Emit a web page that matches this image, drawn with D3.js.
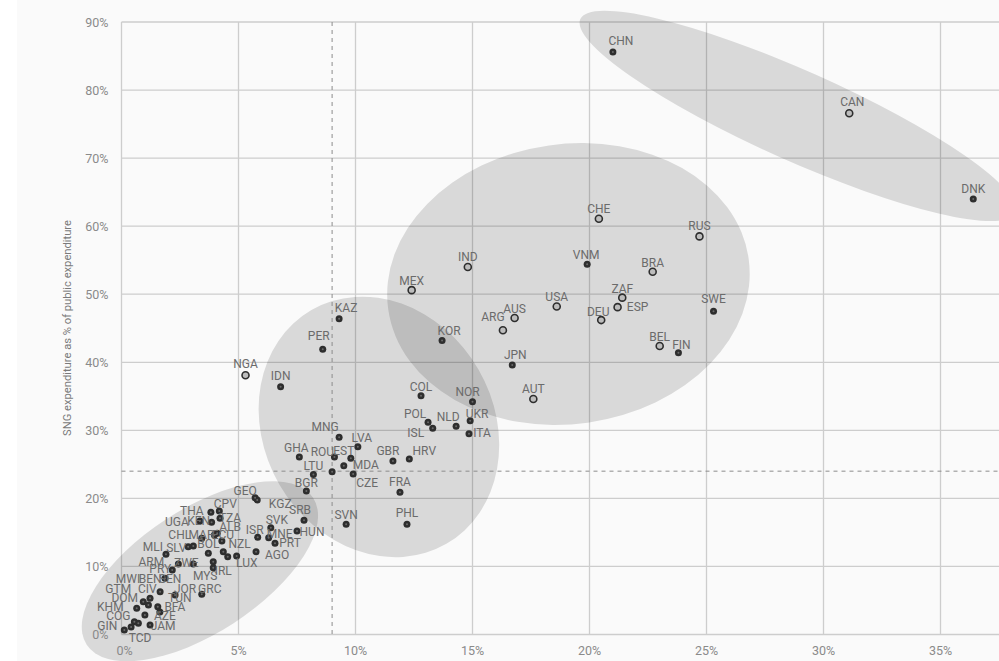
<!DOCTYPE html>
<html lang="en">
<head>
<meta charset="UTF-8">
<title>SNG expenditure vs public expenditure</title>
<script src="https://cdn.jsdelivr.net/npm/d3@7"></script>
<style>
  body { margin: 0; background: #ffffff; }
  svg { display: block; font-family: Roboto, "Noto Sans", sans-serif; }
</style>
</head>
<body>
<div id="chart"></div>
<script>
// country codes, SNG expenditure (% of GDP, x) and SNG expenditure (% of public expenditure, y)
const codes = [
  "CHN","CAN","DNK","CHE","RUS","VNM","BRA","ZAF","ESP","DEU","USA","SWE","BEL","FIN",
  "IND","MEX","AUS","ARG","KOR","JPN","AUT","COL","NOR","UKR","POL","NLD","ISL","ITA",
  "KAZ","PER","NGA","IDN","MNG","LVA","GHA","ROU","EST","MDA","","CZE","LTU","BGR",
  "GBR","HRV","FRA","SRB","SVN","PHL","HUN",
  "GEO","KGZ","CPV","THA","UGA","KEN","TZA","ALB","MAR","CHL","ECU","MLI","SLV","","BOL","",
  "LUX","NZL","AGO","ISR","MNE","SVK","PRT","ARM","ZWE","IRL","MYS","PRY","SEN","BEN",
  "JOR","GRC","MWI","GTM","CIV","TUN","DOM","BFA","AZE","KHM","COG","JAM","GIN","TCD"
];
const sngGdp = [
  21.0, 31.1, 36.4, 20.4, 24.7, 19.9, 22.7, 21.4, 21.2, 20.5, 18.6, 25.3, 23.0, 23.8,
  14.8, 12.4, 16.8, 16.3, 13.7, 16.7, 17.6, 12.8, 15.0, 14.9, 13.1, 14.3, 13.3, 14.85,
  9.3, 8.6, 5.3, 6.8, 9.3, 10.1, 7.6, 9.1, 9.8, 9.5, 9.0, 9.9, 8.2, 7.9,
  11.6, 12.3, 11.9, 7.8, 9.6, 12.2, 7.5,
  5.71, 5.80, 4.18, 3.82, 3.35, 3.85, 4.21, 4.09, 3.97, 3.43, 4.29, 1.90, 3.07, 2.85, 3.71, 4.35,
  4.54, 4.92, 5.75, 5.82, 6.29, 6.38, 6.56, 2.43, 3.07, 3.92, 3.92, 2.17, 1.86, 1.65,
  2.29, 3.43, 1.22, 0.93, 1.15, 1.55, 0.65, 1.64, 1.00, 0.55, 0.72, 1.22, 0.12, 0.41
];
const sngPublic = [
  85.6, 76.6, 64.0, 61.1, 58.5, 54.4, 53.3, 49.5, 48.1, 46.2, 48.2, 47.5, 42.4, 41.4,
  54.0, 50.6, 46.5, 44.7, 43.2, 39.6, 34.6, 35.1, 34.2, 31.4, 31.2, 30.6, 30.3, 29.5,
  46.4, 41.9, 38.1, 36.4, 29.0, 27.6, 26.1, 26.1, 25.9, 24.8, 23.9, 23.6, 23.5, 21.1,
  25.5, 25.8, 20.9, 16.8, 16.2, 16.2, 15.2,
  20.10, 19.77, 18.15, 17.96, 16.68, 16.49, 17.08, 14.87, 14.62, 14.14, 13.74, 11.79, 13.00, 12.90, 11.93, 12.17,
  11.43, 11.54, 12.17, 14.28, 14.22, 15.69, 13.40, 10.36, 10.36, 10.70, 9.82, 9.48, 8.26, 6.29,
  5.80, 5.91, 5.32, 4.82, 4.34, 4.09, 3.85, 3.30, 2.87, 1.88, 1.65, 1.40, 0.66, 1.10
];
const federal = ["ARG","AUS","AUT","BEL","BRA","CAN","CHE","DEU","ESP","IND","MEX","NGA","RUS","USA","ZAF"];

const xTicks = [0, 5, 10, 15, 20, 25, 30, 35];
const yTicks = [0, 10, 20, 30, 40, 50, 60, 70, 80, 90];
const refX = 9;   // dashed reference lines
const refY = 24;
const yTitle = "SNG expenditure as % of public expenditure";

// cluster ellipses, centres in data units
const clusterX = [3.35, 11.0, 19.1, 28.9];
const clusterY = [9.3, 30.5, 51.5, 76.2];

// layout
const W = 999, H = 661;
const plotLeft = 121.5, plotTop = 22, plotBottom = 634.5;
const ellipseShape = [ // rx, ry (px), rotation (deg)
  [135, 62, -33], [115, 135, -30], [182, 140, -8], [238, 45, 24]
];
// label nudges [dx, dy] from marker, text baseline; default [0, -6]
const nudge = {
  CHN:[8,-7], CAN:[3,-7], VNM:[-1,-5], BRA:[0,-5], ZAF:[0,-5], ESP:[20,4], DEU:[-3,-4],
  USA:[0,-5], SWE:[0,-8], BEL:[0,-5], FIN:[3,-4], MEX:[0,-5], AUS:[0,-5], ARG:[-10,-9],
  KOR:[7,-6], JPN:[3,-6], COL:[0,-5], NOR:[-5,-6], UKR:[7,-3], POL:[-13,-4], NLD:[-8,-5],
  ISL:[-17,9], ITA:[13,3], KAZ:[7,-7], PER:[-4,-9], NGA:[0,-7], IDN:[0,-7], MNG:[-14,-6],
  LVA:[4,-5], GHA:[-3,-5], ROU:[-12,-1], EST:[-7,-3], MDA:[22,3], CZE:[14,13], LTU:[0,-5],
  BGR:[0,-4], GBR:[-5,-6], HRV:[15,-4], SRB:[-4,-6], SVN:[0,-5], PHL:[0,-7], HUN:[15,5],
  GEO:[-10,-3], KGZ:[23,8], CPV:[6,-3], THA:[-19,3], UGA:[-23,5], KEN:[-13,3], TZA:[10,4],
  ALB:[13,-2], MAR:[-13,4], CHL:[-22,1], ECU:[1,-2], MLI:[-13,-3], SLV:[-17,6], BOL:[0,-5],
  LUX:[19,10], NZL:[3,-8], AGO:[21,7], ISR:[-3,-3], MNE:[11,0], SVK:[6,-4], PRT:[15,4],
  ARM:[-27,2], ZWE:[-7,3], IRL:[10,13], MYS:[-8,12], PRY:[-12,3], SEN:[5,5], BEN:[-10,-9],
  JOR:[10,-2], GRC:[8,-1], MWI:[-22,-15], GTM:[-25,-9], CIV:[-1,-12], TUN:[22,-5],
  DOM:[-12,-6], BFA:[15,-1], AZE:[20,5], KHM:[-24,-11], COG:[-20,-3], JAM:[13,5],
  GIN:[-17,0], TCD:[9,15]
};

const x = d3.scaleLinear().domain([0, 37.5]).range([plotLeft, W]);
const y = d3.scaleLinear().domain([0, 90]).range([plotBottom, plotTop]);

const svg = d3.select("#chart").append("svg")
  .attr("width", W)
  .attr("height", H);

svg.append("rect")
  .attr("x", 17).attr("y", 0)
  .attr("width", W - 17).attr("height", H)
  .attr("fill", "#fafafa");

// grid
svg.append("g").selectAll("line")
  .data(yTicks)
  .join("line")
  .attr("x1", plotLeft).attr("x2", W)
  .attr("y1", d => y(d)).attr("y2", d => y(d))
  .attr("stroke", "#cdcdcd")
  .attr("stroke-width", 1.3);

svg.append("g").selectAll("line")
  .data(xTicks)
  .join("line")
  .attr("x1", d => x(d)).attr("x2", d => x(d))
  .attr("y1", plotTop).attr("y2", plotBottom)
  .attr("stroke", "#cdcdcd")
  .attr("stroke-width", 1.3);

// ellipses
svg.append("g").selectAll("ellipse")
  .data(clusterX.map((cx, i) => ({ cx: cx, cy: clusterY[i], s: ellipseShape[i] })))
  .join("ellipse")
  .attr("transform", d => "translate(" + x(d.cx) + "," + y(d.cy) + ") rotate(" + d.s[2] + ")")
  .attr("rx", d => d.s[0])
  .attr("ry", d => d.s[1])
  .attr("fill", "#000")
  .attr("fill-opacity", 0.13);

// dashed reference lines
svg.append("line")
  .attr("x1", x(refX)).attr("x2", x(refX))
  .attr("y1", plotTop).attr("y2", plotBottom)
  .attr("stroke", "#8c8c8c")
  .attr("stroke-width", 1)
  .attr("stroke-dasharray", "4,4");

svg.append("line")
  .attr("x1", plotLeft).attr("x2", W)
  .attr("y1", y(refY)).attr("y2", y(refY))
  .attr("stroke", "#8c8c8c")
  .attr("stroke-width", 1)
  .attr("stroke-dasharray", "4,4");

// points
const pts = codes.map((c, i) => ({ code: c, gx: sngGdp[i], gy: sngPublic[i], fed: federal.includes(c) }));

const marks = svg.append("g");
marks.selectAll("circle.outer")
  .data(pts)
  .join("circle")
  .attr("class", "outer")
  .attr("cx", d => x(d.gx))
  .attr("cy", d => y(d.gy))
  .attr("r", 3.5)
  .attr("fill", d => d.fed ? "#bdbdbd" : "#2e2e2e")
  .attr("stroke", "#2e2e2e")
  .attr("stroke-width", d => d.fed ? 1.6 : 0);

marks.selectAll("circle.inner")
  .data(pts.filter(d => !d.fed))
  .join("circle")
  .attr("class", "inner")
  .attr("cx", d => x(d.gx))
  .attr("cy", d => y(d.gy))
  .attr("r", 1)
  .attr("fill", "#6a6a6a");

// labels
svg.append("g").selectAll("text")
  .data(pts.filter(d => d.code !== ""))
  .join("text")
  .attr("x", d => x(d.gx) + (nudge[d.code] || [0, -6])[0])
  .attr("y", d => y(d.gy) + (nudge[d.code] || [0, -6])[1])
  .attr("text-anchor", "middle")
  .attr("font-size", 12)
  .attr("fill", "#6b6b6b")
  .text(d => d.code);

// axis labels
svg.append("g").selectAll("text")
  .data(yTicks)
  .join("text")
  .attr("x", plotLeft - 13)
  .attr("y", d => y(d) + 4.5)
  .attr("text-anchor", "end")
  .attr("font-size", 12.5)
  .attr("fill", "#8a8a8a")
  .text(d => d + "%");

svg.append("g").selectAll("text")
  .data(xTicks)
  .join("text")
  .attr("x", d => x(d) + (d === 0 ? 3 : 0))
  .attr("y", plotBottom + 20)
  .attr("text-anchor", "middle")
  .attr("font-size", 12.5)
  .attr("fill", "#8a8a8a")
  .text(d => d + "%");

svg.append("text")
  .attr("transform", "translate(71,328) rotate(-90)")
  .attr("text-anchor", "middle")
  .attr("font-size", 11.2)
  .attr("fill", "#7a7a7a")
  .text(yTitle);
</script>
</body>
</html>
